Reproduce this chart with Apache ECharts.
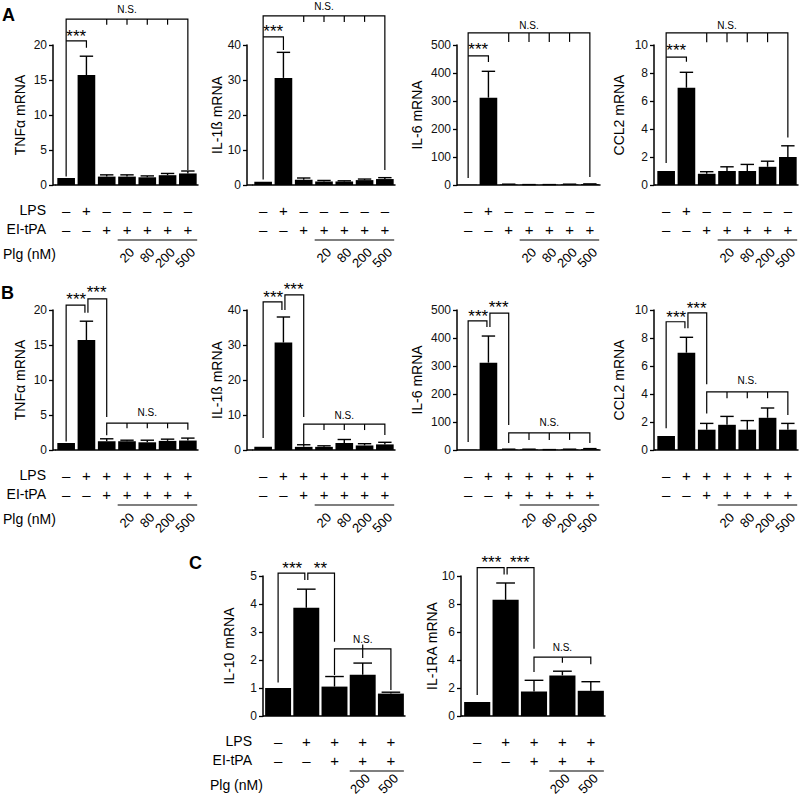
<!DOCTYPE html>
<html><head><meta charset="utf-8">
<script src="https://cdn.jsdelivr.net/npm/echarts@6/dist/echarts.min.js"></script>
<style>html,body{margin:0;padding:0;background:#fff}#c{width:800px;height:800px}</style>
</head><body><div id="c"></div>
<script>
const FONT = '"Liberation Sans", Arial, Helvetica, sans-serif';

// ---------- categories / condition rows ----------
const cats7 = ['1','2','3','4','5','6','7'];
const cats5 = ['1','2','3','4','5'];
const lpsA   = ['–','+','–','–','–','–','–'];
const lpsB   = ['–','+','+','+','+','+','+'];
const eitpa7 = ['–','–','+','+','+','+','+'];
const plg7   = ['','','','20','80','200','500'];
const lpsC   = ['–','+','+','+','+'];
const eitpaC = ['–','–','+','+','+'];
const plgC   = ['','','','200','500'];

// ---------- panel A values (mean, SEM) ----------
const tnfA = [1.0, 15.7, 1.2, 1.2, 1.1, 1.4, 1.65];
const tnfAErr = [0, 2.7, 0.25, 0.25, 0.2, 0.25, 0.35];
const il1bA = [0.9, 30.6, 1.5, 1.0, 1.0, 1.4, 1.7];
const il1bAErr = [0, 7.3, 0.5, 0.3, 0.2, 0.3, 0.4];
const il6A = [1, 312, 2, 1, 1, 2, 3];
const il6AErr = [0, 94, 1, 0.5, 0.5, 1, 1];
const ccl2A = [1.0, 6.95, 0.8, 1.0, 1.0, 1.3, 2.0];
const ccl2AErr = [0, 1.1, 0.15, 0.3, 0.47, 0.4, 0.8];

// ---------- panel B values ----------
const tnfB = [1.0, 15.7, 1.25, 1.25, 1.1, 1.3, 1.35];
const tnfBErr = [0, 2.7, 0.35, 0.15, 0.3, 0.25, 0.35];
const il1bB = [0.9, 30.7, 0.9, 0.9, 2.0, 1.3, 1.6];
const il1bBErr = [0, 7.3, 0.6, 0.3, 1.0, 0.5, 0.6];
const il6B = [1, 312, 2, 2, 1, 2, 3];
const il6BErr = [0, 95, 1, 1, 0.5, 1, 2];
const ccl2B = [1.0, 6.95, 1.45, 1.8, 1.45, 2.3, 1.45];
const ccl2BErr = [0, 1.1, 0.45, 0.6, 0.65, 0.7, 0.45];

// ---------- panel C values ----------
const il10C = [1.0, 3.87, 1.05, 1.47, 0.8];
const il10CErr = [0, 0.66, 0.36, 0.42, 0.05];
const il1raC = [1.0, 8.3, 1.75, 2.9, 1.8];
const il1raCErr = [0, 1.2, 0.8, 0.3, 0.65];

// ---------- significance annotations (in data units of each chart) ----------
const MARKS = {
  A1: {br: [{from:0,to:6,top:23.7,l:1.2,r:2.15,ticks:[2,3,4,5],te:22.9},{from:0,to:1,top:20.6,l:null,r:19.6}],
       tx: [{from:0,to:1,y:21.9,t:'***'},{from:0,to:6,y:25.1,t:'N.S.'}]},
  A2: {br: [{from:0,to:6,top:48.3,l:1.6,r:4.3,ticks:[2,3,4,5],te:46.6},{from:0,to:1,top:42.3,l:null,r:38.6}],
       tx: [{from:0,to:1,y:45.1,t:'***'},{from:0,to:6,y:51.1,t:'N.S.'}]},
  A3: {br: [{from:0,to:6,top:543,l:25,r:29,ticks:[2,3,4,5],te:511},{from:0,to:1,top:461,l:null,r:439}],
       tx: [{from:0,to:1,y:500,t:'***'},{from:0,to:6,y:571,t:'N.S.'}]},
  A4: {br: [{from:0,to:6,top:10.86,l:1.57,r:3.4,ticks:[2,3,4,5],te:10.2},{from:0,to:1,top:9.14,l:null,r:8.8}],
       tx: [{from:0,to:1,y:9.9,t:'***'},{from:0,to:6,y:11.4,t:'N.S.'}]},
  B1: {br: [{from:0,to:1,top:20.7,l:1.2,r:19.6,dr:-1.5},{from:1,to:2,top:21.6,l:19.6,r:4.7,dl:1.5},
            {from:2,to:6,top:3.85,l:2.1,r:2.9,ticks:[3,4,5],te:3.1}],
       tx: [{from:0,to:1,y:22.1,t:'***'},{from:1,to:2,y:23.1,t:'***'},{from:2,to:6,y:5.3,t:'N.S.'}]},
  B2: {br: [{from:0,to:1,top:42.3,l:3.4,r:40,dr:-1.5},{from:1,to:2,top:44.3,l:40,r:9.4,dl:1.5},
            {from:2,to:6,top:7.4,l:1.4,r:4.3,ticks:[3,4,5],te:5.7}],
       tx: [{from:0,to:1,y:44.9,t:'***'},{from:1,to:2,y:47.1,t:'***'},{from:2,to:6,y:10,t:'N.S.'}]},
  B3: {br: [{from:0,to:1,top:461,l:29,r:439,dr:-1.5},{from:1,to:2,top:489,l:439,r:89,dl:1.5},
            {from:2,to:6,top:61,l:25,r:25,ticks:[3,4,5],te:36}],
       tx: [{from:0,to:1,y:493,t:'***'},{from:1,to:2,y:525,t:'***'},{from:2,to:6,y:97,t:'N.S.'}]},
  B4: {br: [{from:0,to:1,top:9.16,l:1.55,r:8.7,dr:-1.5},{from:1,to:2,top:9.8,l:8.7,r:4.7,dl:1.5},
            {from:2,to:6,top:4.15,l:2.6,r:2.5,ticks:[3,4,5],te:3.7}],
       tx: [{from:0,to:1,y:9.8,t:'***'},{from:1,to:2,y:10.4,t:'***'},{from:2,to:6,y:5.0,t:'N.S.'}]},
  C1: {br: [{from:0,to:1,top:5.1,l:1.2,r:4.86,dr:-1.5},{from:1,to:2,top:5.1,l:4.86,r:2.65,dl:1.5},
            {from:2,to:4,top:2.4,l:1.46,r:0.93,ticks:[3],te:2.07,tt:2.55}],
       tx: [{from:0,to:1,y:5.43,t:'***'},{from:1,to:2,y:5.43,t:'**'},{from:2,to:4,y:2.72,t:'N.S.'}]},
  C2: {br: [{from:0,to:1,top:10.6,l:1.5,r:10.1,dr:-1.5},{from:1,to:2,top:10.6,l:10.1,r:4.8,dl:1.5},
            {from:2,to:4,top:4.2,l:3.15,r:3.7,ticks:[3],te:3.8}],
       tx: [{from:0,to:1,y:11.3,t:'***'},{from:1,to:2,y:11.3,t:'***'},{from:2,to:4,y:4.9,t:'N.S.'}]}
};

// ---------- layout (pixels) ----------
const LAYOUT = {
  A1:{left:56,top:45,width:142,height:140,off:3,titleDx:33,plgDy:65,names:{right:46,plg:3}},
  A2:{left:253,top:45,width:142,height:140,off:6,titleDx:30,plgDy:65},
  A3:{left:458,top:45,width:142,height:140,off:1,titleDx:40,plgDy:65},
  A4:{left:656,top:45,width:142,height:140,off:2,titleDx:35,plgDy:65},
  B1:{left:56,top:310,width:142,height:140,off:3,titleDx:33,plgDy:65,names:{right:46,plg:3}},
  B2:{left:253,top:310,width:142,height:140,off:6,titleDx:30,plgDy:65},
  B3:{left:458,top:310,width:142,height:140,off:1,titleDx:40,plgDy:65},
  B4:{left:656,top:310,width:142,height:140,off:2,titleDx:35,plgDy:65},
  C1:{left:264,top:576,width:141,height:140,off:1,titleDx:34,plgDy:60,names:{right:252,plg:210}},
  C2:{left:463,top:576,width:142,height:140,off:2,titleDx:29,plgDy:60}
};

const charts = [
  {id:'A1', title:'TNFα mRNA', cats:cats7, v:tnfA, e:tnfAErr, max:20, step:5, lps:lpsA, ei:eitpa7, plg:plg7},
  {id:'A2', title:'IL-1ß mRNA', cats:cats7, v:il1bA, e:il1bAErr, max:40, step:10, lps:lpsA, ei:eitpa7, plg:plg7},
  {id:'A3', title:'IL-6 mRNA', cats:cats7, v:il6A, e:il6AErr, max:500, step:100, lps:lpsA, ei:eitpa7, plg:plg7},
  {id:'A4', title:'CCL2 mRNA', cats:cats7, v:ccl2A, e:ccl2AErr, max:10, step:2, lps:lpsA, ei:eitpa7, plg:plg7},
  {id:'B1', title:'TNFα mRNA', cats:cats7, v:tnfB, e:tnfBErr, max:20, step:5, lps:lpsB, ei:eitpa7, plg:plg7},
  {id:'B2', title:'IL-1ß mRNA', cats:cats7, v:il1bB, e:il1bBErr, max:40, step:10, lps:lpsB, ei:eitpa7, plg:plg7},
  {id:'B3', title:'IL-6 mRNA', cats:cats7, v:il6B, e:il6BErr, max:500, step:100, lps:lpsB, ei:eitpa7, plg:plg7},
  {id:'B4', title:'CCL2 mRNA', cats:cats7, v:ccl2B, e:ccl2BErr, max:10, step:2, lps:lpsB, ei:eitpa7, plg:plg7},
  {id:'C1', title:'IL-10 mRNA', cats:cats5, v:il10C, e:il10CErr, max:5, step:1, lps:lpsC, ei:eitpaC, plg:plgC},
  {id:'C2', title:'IL-1RA mRNA', cats:cats5, v:il1raC, e:il1raCErr, max:10, step:2, lps:lpsC, ei:eitpaC, plg:plgC}
];

function T(t, x, y, size, align, vAlign, rot, bold) {
  return {type:'text', x:x, y:y, rotation:rot||0, silent:true,
    style:{text:t, x:0, y:0, fill:'#000', font:(bold?'bold ':'')+size+'px '+FONT,
      align:align, verticalAlign:vAlign, textAlign:align, textVerticalAlign:vAlign}};
}

function errRender(params, api) {
  const i = params.dataIndex;
  const v = api.value(1), e = api.value(2);
  if (!e) return null;
  const p0 = api.coord([i, v]), p1 = api.coord([i, v + e]);
  const cap = api.size([1, 0])[0] * 0.33;
  const st = {stroke:'#000', lineWidth:1.4};
  return {type:'group', children:[
    {type:'line', shape:{x1:p0[0], y1:p0[1], x2:p1[0], y2:p1[1]}, style:st},
    {type:'line', shape:{x1:p1[0]-cap, y1:p1[1], x2:p1[0]+cap, y2:p1[1]}, style:st}
  ]};
}

function annRender(ch) {
  const L = LAYOUT[ch.id], M = MARKS[ch.id];
  return function(params, api) {
    const kids = [];
    const X = i => api.coord([i, 0])[0];
    const Y = v => api.coord([0, v])[1];
    const band = api.size([1, 0])[0];
    const y0 = Y(0);
    const st = {stroke:'#000', lineWidth:1.2, fill:null};
    kids.push({type:'line', shape:{x1:L.left - L.off, y1:y0, x2:L.left, y2:y0}, style:{stroke:'#000', lineWidth:1.5}});
    M.br.forEach(b => {
      const xl = X(b.from) + (b.dl || 0), xr = X(b.to) + (b.dr || 0), yt = Y(b.top);
      const pts = [];
      if (b.l != null) pts.push([xl, Y(b.l)]);
      pts.push([xl, yt], [xr, yt]);
      if (b.r != null) pts.push([xr, Y(b.r)]);
      kids.push({type:'polyline', shape:{points:pts}, style:st});
      (b.ticks || []).forEach(t => {
        kids.push({type:'line', shape:{x1:X(t), y1:Y(b.tt != null ? b.tt : b.top), x2:X(t), y2:Y(b.te)}, style:st});
      });
    });
    M.tx.forEach(t => {
      const x = (X(t.from) + X(t.to)) / 2;
      if (t.t.indexOf('*') >= 0) kids.push(T(t.t, x, Y(t.y) + 4.5, 17, 'center', 'middle'));
      else kids.push(T(t.t, x, Y(t.y), 10, 'center', 'middle'));
    });
    const n = ch.cats.length;
    for (let i = 0; i < n; i++) {
      kids.push(T(ch.lps[i], X(i), y0 + 25, 15, 'center', 'middle'));
      kids.push(T(ch.ei[i], X(i), y0 + 44, 15, 'center', 'middle'));
      if (ch.plg[i]) kids.push(T(ch.plg[i], X(i) + 5, y0 + L.plgDy, 13, 'right', 'middle', Math.PI / 4));
    }
    const firstPlg = ch.plg.findIndex(s => s !== '');
    kids.push({type:'line', shape:{x1:X(firstPlg) - band*0.46, y1:y0 + 55, x2:X(n-1) + band*0.46, y2:y0 + 55}, style:st});
    if (L.names) {
      kids.push(T('LPS', L.names.right, y0 + 25, 14, 'right', 'middle'));
      kids.push(T('EI-tPA', L.names.right, y0 + 44, 14, 'right', 'middle'));
      kids.push(T('Plg (nM)', L.names.plg, y0 + 69, 14, 'left', 'middle'));
    }
    kids.push(T(ch.title, L.left - L.off - L.titleDx, L.top + L.height / 2, 14, 'center', 'middle', Math.PI / 2));
    return {type:'group', children:kids};
  };
}

const option = {animation:false, backgroundColor:'#fff', grid:[], xAxis:[], yAxis:[], series:[],
  graphic:[
    {type:'text', left:2, top:6, style:{text:'A', font:'bold 18px ' + FONT, fill:'#000'}},
    {type:'text', left:1, top:284, style:{text:'B', font:'bold 18px ' + FONT, fill:'#000'}},
    {type:'text', left:189, top:554, style:{text:'C', font:'bold 18px ' + FONT, fill:'#000'}}
  ]};

charts.forEach((ch, k) => {
  const L = LAYOUT[ch.id];
  option.grid.push({left:L.left, top:L.top, width:L.width, height:L.height});
  option.xAxis.push({type:'category', gridIndex:k, data:ch.cats, boundaryGap:true,
    axisLine:{lineStyle:{color:'#000', width:1.5}},
    axisTick:{alignWithLabel:true, length:5, lineStyle:{color:'#000', width:1.3}},
    axisLabel:{show:false}, splitLine:{show:false}});
  option.yAxis.push({type:'value', gridIndex:k, min:0, max:ch.max, interval:ch.step, offset:L.off,
    axisLine:{show:true, lineStyle:{color:'#000', width:1.5}},
    axisTick:{show:true, length:4, lineStyle:{color:'#000', width:1.3}},
    axisLabel:{color:'#111', fontSize:12, fontFamily:FONT, margin:6},
    splitLine:{show:false}});
  option.series.push({type:'bar', xAxisIndex:k, yAxisIndex:k, data:ch.v,
    barCategoryGap: ch.cats.length === 5 ? '8%' : '13%', itemStyle:{color:'#000'}, silent:true});
  option.series.push({type:'custom', xAxisIndex:k, yAxisIndex:k, clip:false, silent:true, z:5,
    data: ch.v.map((v, i) => [i, v, ch.e[i]]), encode:{x:0, y:1}, renderItem: errRender});
  option.series.push({type:'custom', xAxisIndex:k, yAxisIndex:k, clip:false, silent:true, z:6,
    data: [[0, 0]], encode:{x:0, y:1}, renderItem: annRender(ch)});
});

const chart = echarts.init(document.getElementById('c'), null, {renderer:'svg', width:800, height:800});
chart.setOption(option);
</script></body></html>
